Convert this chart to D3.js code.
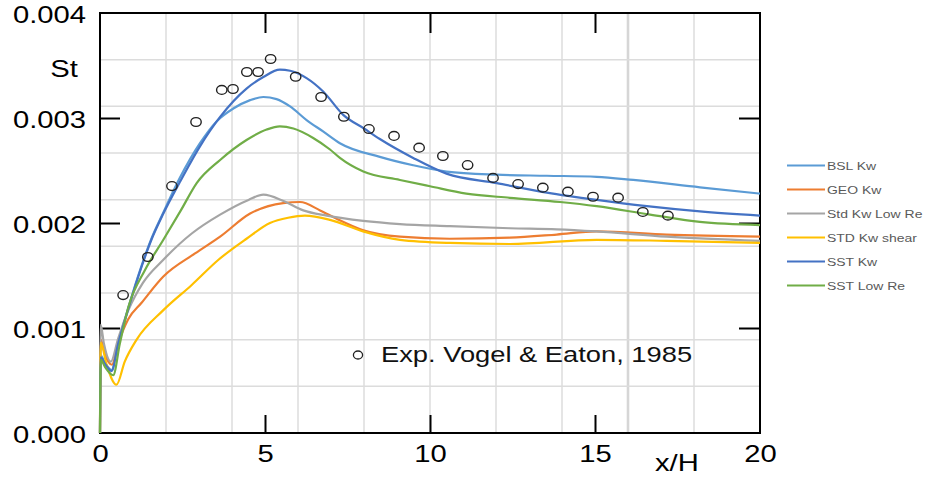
<!DOCTYPE html>
<html><head><meta charset="utf-8">
<script src="https://cdn.jsdelivr.net/npm/d3@7"></script>
<style>
html,body{margin:0;padding:0;background:#fff;}
svg{display:block;font-family:"Liberation Sans",Arial,sans-serif;}
</style></head>
<body><svg id="c" width="930" height="479"></svg>
<script>
// ---------- data ----------
const seriesNames = ["BSL Kw","GEO Kw","Std Kw Low Re","STD Kw shear","SST Kw","SST Low Re"];
const seriesColors = ["#5B9BD5","#ED7D31","#A5A5A5","#FFC000","#4472C4","#70AD47"];

const bslKw = [[0,0],[0.02,0.00074],[0.15,0.00067],[0.35,0.0006],[0.55,0.00086],[0.76,0.00109],[1.16,0.0015],[1.57,0.00186],[1.92,0.0021],[2.42,0.00243],[3.03,0.00276],[3.54,0.00297],[4.04,0.00309],[4.55,0.00317],[4.95,0.0032],[5.35,0.00318],[5.76,0.00311],[6.26,0.00298],[6.77,0.00287],[7.27,0.00276],[8.48,0.00263],[9.49,0.00255],[10.5,0.00249],[12.02,0.00246],[13.54,0.00245],[15.05,0.00244],[16.16,0.00241],[18.18,0.00234],[20,0.00228]];
const geoKw = [[0,0],[0.02,0.00089],[0.15,0.00075],[0.36,0.00065],[0.55,0.00085],[0.85,0.00108],[1.26,0.00124],[1.92,0.00149],[2.88,0.00171],[3.64,0.00187],[4.55,0.00209],[5.55,0.00219],[6.06,0.0022],[6.67,0.00212],[7.17,0.00204],[7.98,0.00193],[9.09,0.00187],[10.6,0.00185],[12.42,0.00186],[13.84,0.00189],[15.05,0.00192],[17.17,0.00189],[20,0.00187]];
const stdKwLowRe = [[0,0],[0.02,0.00103],[0.12,0.00085],[0.33,0.00068],[0.55,0.0009],[0.86,0.00117],[1.3,0.00143],[1.92,0.00165],[2.78,0.0019],[3.64,0.00208],[4.5,0.00222],[4.95,0.00227],[5.56,0.00221],[6.16,0.00212],[6.87,0.00207],[7.98,0.00202],[9.09,0.00199],[10.6,0.00197],[12.42,0.00195],[13.84,0.00194],[15.05,0.00192],[17.17,0.00187],[20,0.00183]];
const stdKwShear = [[0,0],[0.02,0.00086],[0.2,0.00065],[0.5,0.00046],[0.75,0.00068],[1.11,0.00089],[1.92,0.00117],[2.78,0.00141],[3.59,0.00165],[4.44,0.00185],[5.15,0.002],[5.7,0.00205],[6.21,0.00207],[6.97,0.00203],[7.97,0.00192],[9.09,0.00184],[10.6,0.00181],[12.42,0.0018],[15.05,0.00184],[17.17,0.00183],[20,0.00181]];
const sstKw = [[0,0],[0.02,0.00072],[0.15,0.00066],[0.35,0.00059],[0.55,0.00085],[0.76,0.00108],[1.16,0.00149],[1.57,0.00185],[1.92,0.00209],[2.42,0.00239],[3.03,0.00273],[3.64,0.00301],[4.44,0.00328],[4.95,0.00339],[5.45,0.00346],[5.76,0.00345],[6.26,0.00338],[6.77,0.00325],[7.37,0.00303],[8.0,0.0029],[8.48,0.0028],[9.49,0.00262],[10.5,0.00247],[12.02,0.00238],[13.54,0.00229],[15.05,0.00222],[16.57,0.00216],[18.18,0.00211],[20,0.00207]];
const sstLowRe = [[0,0],[0.02,0.0007],[0.15,0.00063],[0.4,0.00055],[0.6,0.00085],[0.86,0.0012],[1.36,0.00155],[1.92,0.00184],[2.45,0.00212],[2.93,0.00238],[3.64,0.0026],[4.44,0.00279],[5.05,0.00289],[5.45,0.00292],[5.86,0.0029],[6.46,0.00281],[6.97,0.0027],[7.27,0.00262],[7.98,0.00249],[9.09,0.00241],[10,0.00235],[11.1,0.00228],[12.42,0.00224],[13.94,0.0022],[15.05,0.00216],[16.67,0.00208],[18.18,0.00201],[20,0.00198]];

const expX  = [0.70,1.45,2.18,2.91,3.69,4.03,4.45,4.79,5.17,5.93,6.70,7.39,8.15,8.91,9.67,10.39,11.14,11.91,12.67,13.42,14.18,14.94,15.70,16.45,17.21];
const expSt = [0.001314,0.001676,0.002352,0.002962,0.003267,0.003276,0.003438,0.003438,0.003562,0.003393,0.0032,0.003012,0.002895,0.002829,0.002717,0.002638,0.002552,0.002429,0.002371,0.002336,0.002298,0.00225,0.002241,0.002105,0.00207];

const yTickVals = [0,0.001,0.002,0.003,0.004];
const xTickVals = [0,5,10,15,20];
const xGridVals = [2,4,6,8,10,12,14,16,18];
const yGridVals = [1,2,3,4,5,6,7,8].map(k => k*0.004/9);
const expLabel = "Exp. Vogel & Eaton, 1985";

const seriesData = [bslKw, geoKw, stdKwLowRe, stdKwShear, sstKw, sstLowRe];

// ---------- chart ----------
const svg = d3.select("#c");
const SX = 1.27; // horizontal text stretch
const x = d3.scaleLinear().domain([0,20]).range([100,760]);
const y = d3.scaleLinear().domain([0,0.004]).range([433,13]);

// grid
svg.append("g").selectAll("line").data(xGridVals).join("line")
  .attr("x1", d=>x(d)).attr("x2", d=>x(d)).attr("y1", y(0)).attr("y2", y(0.004))
  .attr("stroke", d => d===16 ? "#d6d6d6" : "#dcdcdc").attr("stroke-width", d => d===16 ? 2.6 : 1.5);
svg.append("g").selectAll("line").data(yGridVals).join("line")
  .attr("x1", x(0)).attr("x2", x(20)).attr("y1", d=>y(d)).attr("y2", d=>y(d))
  .attr("stroke", "#dcdcdc").attr("stroke-width", 1.5);

// axes (inward ticks)
const gL = svg.append("g").attr("transform", `translate(${x(0)},0)`)
  .call(d3.axisLeft(y).tickValues(yTickVals).tickSize(-20).tickFormat(d3.format(".3f")));
const gB = svg.append("g").attr("transform", `translate(0,${y(0)})`)
  .call(d3.axisBottom(x).tickValues(xTickVals).tickSize(-18).tickFormat(d3.format("d")));
const gT = svg.append("g").attr("transform", `translate(0,${y(0.004)})`)
  .call(d3.axisTop(x).tickValues([5,10,15]).tickSize(-20).tickFormat(""));
const gR = svg.append("g").attr("transform", `translate(${x(20)},0)`)
  .call(d3.axisRight(y).tickValues([0.001,0.002,0.003]).tickSize(-21).tickFormat(""));
[gL,gB,gT,gR].forEach(g => {
  g.select(".domain").remove();
  g.selectAll(".tick line").attr("stroke","#000").attr("stroke-width",2);
});
gL.selectAll(".tick").filter(d => d===0 || d===0.004).select("line").remove();
gB.selectAll(".tick").filter(d => d===0 || d===20).select("line").remove();
gL.selectAll(".tick text").attr("x",0).attr("dy",null).attr("font-size",23).attr("fill","#000")
  .attr("text-anchor","end").attr("transform", "translate(-14,9) scale(" + SX + ",1)");
gB.selectAll(".tick text").attr("y",0).attr("dy",null).attr("font-size",23).attr("fill","#000")
  .attr("text-anchor","middle").attr("transform", "translate(0,28.5) scale(" + SX + ",1)");

// frame
svg.append("rect").attr("x", x(0)).attr("y", y(0.004)).attr("width", x(20)-x(0)).attr("height", y(0)-y(0.004))
  .attr("fill","none").attr("stroke","#000").attr("stroke-width",2);

// lines
const line = d3.line().x(d=>x(d[0])).y(d=>y(d[1])).curve(d3.curveMonotoneX);
svg.append("g").selectAll("path").data(seriesData).join("path")
  .attr("d", line).attr("fill","none")
  .attr("stroke", (d,i)=>seriesColors[i]).attr("stroke-width",2.2).attr("stroke-linejoin","round");

// experimental points
svg.append("g").selectAll("ellipse").data(expX).join("ellipse")
  .attr("cx", d=>x(d)).attr("cy", (d,i)=>y(expSt[i])).attr("rx",5.2).attr("ry",4.4)
  .attr("fill","none").attr("stroke","#222").attr("stroke-width",1.4);

// axis titles
svg.append("text").text("St").attr("font-size",23).attr("text-anchor","middle")
  .attr("transform", "translate(64,77) scale(" + SX + ",1)");
svg.append("text").text("x/H").attr("font-size",23).attr("text-anchor","start")
  .attr("transform", "translate(655,471) scale(" + SX + ",1)");

// experiment annotation
svg.append("ellipse").attr("cx",358).attr("cy",355).attr("rx",4.6).attr("ry",4)
  .attr("fill","none").attr("stroke","#222").attr("stroke-width",1.3);
svg.append("text").text(expLabel).attr("font-size",21.5).attr("fill","#111")
  .attr("transform", "translate(381,362) scale(" + SX + ",1)");

// legend
const lg = svg.append("g").selectAll("g").data(seriesNames).join("g")
  .attr("transform", (d,i)=>`translate(787,${165.5 + i*24})`);
lg.append("line").attr("x1",0).attr("x2",38).attr("y1",0).attr("y2",0)
  .attr("stroke",(d,i)=>seriesColors[i]).attr("stroke-width",2);
lg.append("text").text(d=>d).attr("font-size",11).attr("fill","#595959")
  .attr("transform", "translate(40,4) scale(" + SX + ",1)");
</script></body></html>
